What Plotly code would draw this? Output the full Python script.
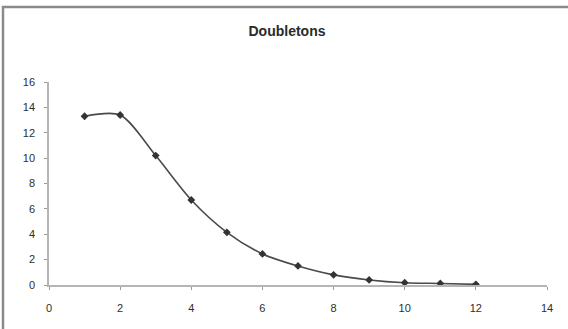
import plotly.graph_objects as go

# Number of doubletons per step
steps = [1, 2, 3, 4, 5, 6, 7, 8, 9, 10, 11, 12]
doubletons = [13.3, 13.4, 10.2, 6.7, 4.15, 2.45, 1.5, 0.8, 0.4, 0.18, 0.12, 0.05]

x_ticks = [0, 2, 4, 6, 8, 10, 12, 14]
y_ticks = [0, 2, 4, 6, 8, 10, 12, 14, 16]

W, H = 568, 329
L, R, T, B = 49, 21, 82, 44

fig = go.Figure()
fig.add_trace(go.Scatter(
    x=steps, y=doubletons,
    mode="lines+markers",
    line=dict(shape="spline", smoothing=0.8, color="#4a4a4a", width=1.6),
    marker=dict(symbol="diamond", size=6, color="#333333"),
    showlegend=False,
))

axis_font = dict(family="Arial, Liberation Sans, sans-serif", size=11, color="#2e2e2e")

fig.update_layout(
    width=W, height=H,
    margin=dict(l=L, r=R, t=T, b=B),
    paper_bgcolor="white", plot_bgcolor="white",
    title=dict(
        text="<b>Doubletons</b>",
        x=(287) / W, xanchor="center",
        y=1 - 31 / H, yanchor="middle",
        font=dict(family="Arial, Liberation Sans, sans-serif", size=14, color="#2a2a2a"),
    ),
    xaxis=dict(
        range=[0, 14], tickvals=x_ticks, showgrid=False, zeroline=False,
        showline=True, linecolor="#b5b5b5", linewidth=1.5,
        ticks="outside", ticklen=3, tickcolor="#999999",
        tickfont=axis_font, ticklabelstandoff=9,
    ),
    yaxis=dict(
        range=[0, 16], tickvals=y_ticks, showgrid=False, zeroline=False,
        showline=True, linecolor="#b5b5b5", linewidth=1.5,
        ticks="outside", ticklen=3, tickcolor="#999999",
        tickfont=axis_font, ticklabelstandoff=7,
    ),
    shapes=[
        # chart-area frame (top and left edges visible)
        dict(type="rect", xref="paper", yref="paper",
             x0=(3 - L) / (W - L - R), x1=1.5,
             y0=-1.0, y1=(H - B - 7) / (H - T - B),
             line=dict(color="#8a8a8a", width=2.5), layer="below"),
    ],
)

fig.write_html("out.html")
